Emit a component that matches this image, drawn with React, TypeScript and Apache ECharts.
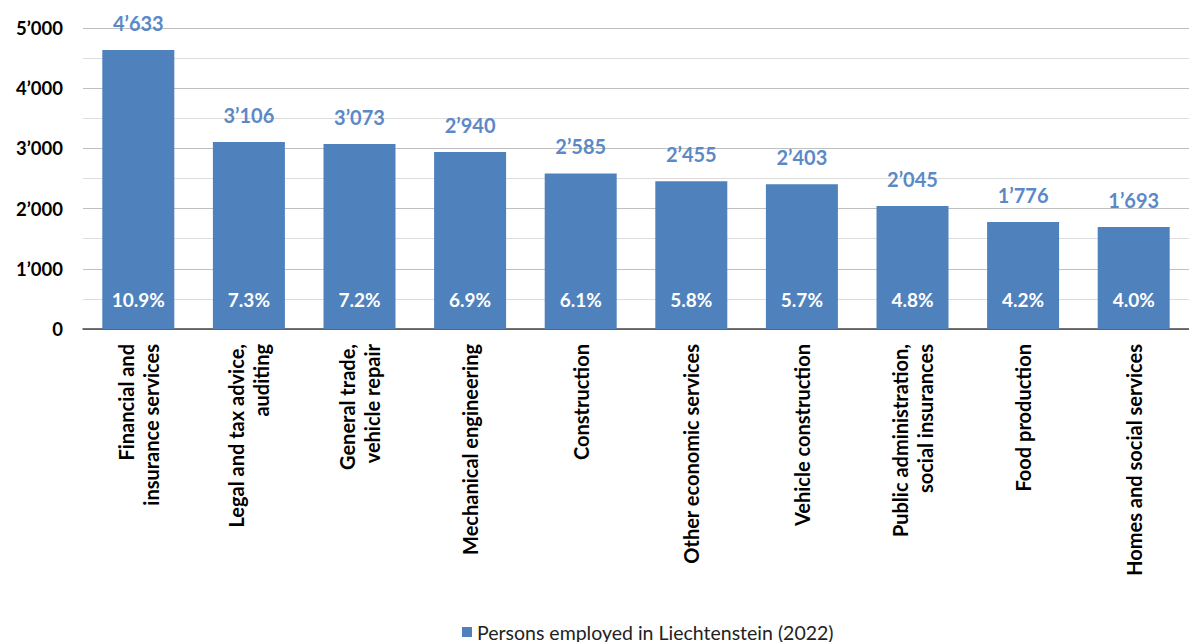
import React, { useEffect, useRef } from "react";
import * as echarts from "echarts";

const categories = [
  "Financial and\ninsurance services",
  "Legal and tax advice,\nauditing",
  "General trade,\nvehicle repair",
  "Mechanical engineering",
  "Construction",
  "Other economic services",
  "Vehicle construction",
  "Public administration,\nsocial insurances",
  "Food production",
  "Homes and social services",
];
const employed = [4633, 3106, 3073, 2940, 2585, 2455, 2403, 2045, 1776, 1693];
const shares = ["10.9%", "7.3%", "7.2%", "6.9%", "6.1%", "5.8%", "5.7%", "4.8%", "4.2%", "4.0%"];
const seriesName = "Persons employed in Liechtenstein (2022)";

const fmt = (v: number) => {
  const s = String(Math.round(v));
  return s.length > 3 ? s.slice(0, s.length - 3) + "\u2019" + s.slice(s.length - 3) : s;
};

const FONT = "Lato, 'Open Sans', sans-serif";

export default function App() {
  const ref = useRef<HTMLDivElement>(null);
  useEffect(() => {
    if (!ref.current) return;
    const chart = echarts.init(ref.current, undefined, { renderer: "svg" });
    chart.setOption({
      animation: false,
      textStyle: { fontFamily: FONT },
      grid: { left: 83, right: -6, top: 28, bottom: 313, containLabel: false },
      legend: {
        data: [seriesName],
        left: 457,
        top: 617,
        icon: "rect",
        itemWidth: 10,
        itemHeight: 10,
        itemGap: 10,
        textStyle: { fontFamily: FONT, fontSize: 19.5, color: "#222" },
      },
      xAxis: {
        type: "category",
        data: categories,
        axisTick: { show: false },
        axisLine: { lineStyle: { color: "#444", width: 1.5 } },
        axisLabel: {
          rotate: 90,
          interval: 0,
          margin: 15,
          fontFamily: FONT,
          fontSize: 20,
          fontWeight: "bold",
          color: "#000",
          lineHeight: 25,
          align: "right",
        },
      },
      yAxis: {
        type: "value",
        min: 0,
        max: 5000,
        interval: 1000,
        axisLine: { show: false },
        axisTick: { show: false },
        splitLine: { lineStyle: { color: "#c0c0c0", width: 1 } },
        minorTick: { show: false, splitNumber: 2 },
        minorSplitLine: { show: true, lineStyle: { color: "#dcdcdc", width: 1 } },
        axisLabel: {
          margin: 20,
          fontFamily: FONT,
          fontSize: 18.5,
          fontWeight: "bold",
          color: "#000",
          formatter: (v: number) => fmt(v),
        },
      },
      series: [
        {
          name: seriesName,
          type: "bar",
          data: employed,
          barWidth: 72,
          itemStyle: { color: "#4F81BD" },
          label: {
            show: true,
            position: "top",
            distance: 17,
            fontFamily: FONT,
            fontSize: 20,
            fontWeight: "bold",
            color: "#5B89C8",
            formatter: (p: any) => fmt(p.value),
          },
        },
        {
          name: "share",
          type: "bar",
          data: shares.map(() => 0),
          barWidth: 72,
          barGap: "-100%",
          silent: true,
          itemStyle: { color: "transparent" },
          label: {
            show: true,
            position: "top",
            distance: 20,
            fontFamily: FONT,
            fontSize: 19,
            fontWeight: "bold",
            color: "#fff",
            formatter: (p: any) => shares[p.dataIndex],
          },
        },
      ],
    });
    return () => chart.dispose();
  }, []);
  return (
    <div
      ref={ref}
      style={{ position: "absolute", left: 0, top: 0, width: 1189, height: 642, overflow: "hidden" }}
    />
  );
}
